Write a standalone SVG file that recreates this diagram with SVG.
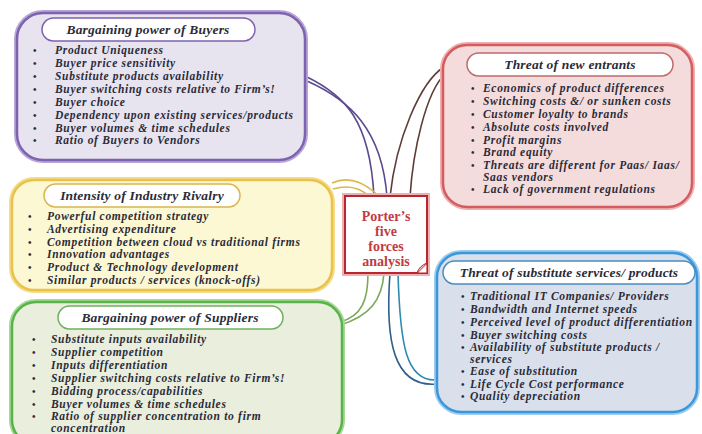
<svg xmlns="http://www.w3.org/2000/svg" width="702" height="434" viewBox="0 0 702 434">
<defs>
<style>
.t{font-family:"Liberation Serif","Times New Roman",serif;font-weight:bold;font-style:italic;font-size:11.5px;letter-spacing:0.7px;fill:#2b2b38}
.h{font-family:"Liberation Serif","Times New Roman",serif;font-weight:bold;font-style:italic;font-size:13.5px;letter-spacing:0.2px;fill:#2b2b38;text-anchor:middle}
.b{font-family:"Liberation Serif",serif;font-weight:bold;font-size:10px;fill:#2b2b38}
.c{font-family:"Liberation Serif","Times New Roman",serif;font-weight:bold;font-size:14px;fill:#c23a44;text-anchor:middle}
.pill{fill:#fff;stroke-width:1.5}
.con{fill:none;stroke-width:1.6}
</style>
</defs>
<rect width="702" height="434" fill="#fff"/>

<g id="connectors">
<path class="con" stroke="#5c4a8e" d="M305,76 C345,95 370,120 374,197"/>
<path class="con" stroke="#5c4a8e" d="M307,81 C350,100 382,130 387,197"/>
<path class="con" stroke="#d9b94a" d="M332,183 C352,174 368,186 380,197"/>
<path class="con" stroke="#d9b94a" d="M333,189 C350,184 362,189 370,197"/>
<path class="con" stroke="#5e3b36" d="M444,67 C420,82 396,140 390,197"/>
<path class="con" stroke="#5e3b36" d="M445,74 C426,92 413,150 410,197"/>
<path class="con" stroke="#7aa85a" d="M340,322 C362,316 368,300 368,273"/>
<path class="con" stroke="#7aa85a" d="M340,325 C370,316 382,300 384,273"/>
<path class="con" stroke="#2f5f8a" d="M390,273 C385,340 393,388 437,384"/>
<path class="con" stroke="#2f8ab0" d="M398,273 C400,345 406,382 437,380"/>
</g>

<g id="buyers">
<rect x="17" y="13" width="288" height="147" rx="26" fill="none" stroke="#b7a6d8" stroke-width="6"/>
<rect x="17" y="13" width="288" height="147" rx="26" fill="#e7e3ef" stroke="#7e62ae" stroke-width="2.5"/>
<rect class="pill" x="42" y="18" width="213" height="23" rx="11.5" stroke="#7e62ae"/>
<text class="h" x="148" y="34">Bargaining power of Buyers</text>
<g class="b"><text x="33" y="54">•</text><text x="33" y="67">•</text><text x="33" y="80">•</text><text x="33" y="93">•</text><text x="33" y="106">•</text><text x="33" y="119">•</text><text x="33" y="132">•</text><text x="33" y="144">•</text></g>
<text class="t" x="55" y="54">Product Uniqueness</text>
<text class="t" x="55" y="67">Buyer price sensitivity</text>
<text class="t" x="55" y="80">Substitute products availability</text>
<text class="t" x="55" y="93">Buyer switching costs relative to Firm’s!</text>
<text class="t" x="55" y="106">Buyer choice</text>
<text class="t" x="55" y="119">Dependency upon existing services/products</text>
<text class="t" x="55" y="132">Buyer volumes &amp; time schedules</text>
<text class="t" x="55" y="144">Ratio of Buyers to Vendors</text>
</g>

<g id="rivalry">
<rect x="12" y="180" width="320" height="110" rx="22" fill="none" stroke="#f4dc8a" stroke-width="6"/>
<rect x="12" y="180" width="320" height="110" rx="22" fill="#fcf8d4" stroke="#e9c24c" stroke-width="2.5"/>
<rect class="pill" x="44" y="184" width="196" height="23" rx="11.5" stroke="#d8b550"/>
<text class="h" x="142" y="200">Intensity of Industry Rivalry</text>
<g class="b"><text x="28" y="220">•</text><text x="28" y="233">•</text><text x="28" y="246">•</text><text x="28" y="258">•</text><text x="28" y="271">•</text><text x="28" y="284">•</text></g>
<text class="t" x="47" y="220">Powerful competition strategy</text>
<text class="t" x="47" y="233">Advertising expenditure</text>
<text class="t" x="47" y="246">Competition between cloud vs traditional firms</text>
<text class="t" x="47" y="258">Innovation advantages</text>
<text class="t" x="47" y="271">Product &amp; Technology development</text>
<text class="t" x="47" y="284">Similar products / services (knock-offs)</text>
</g>

<g id="suppliers">
<rect x="12" y="302" width="330" height="142" rx="24" fill="none" stroke="#a8d898" stroke-width="6"/>
<rect x="12" y="302" width="330" height="142" rx="24" fill="#e9eedd" stroke="#58b448" stroke-width="2.5"/>
<rect class="pill" x="58" y="306" width="225" height="23" rx="11.5" stroke="#70b060"/>
<text class="h" x="170" y="322">Bargaining power of Suppliers</text>
<g class="b"><text x="32" y="343">•</text><text x="32" y="356">•</text><text x="32" y="369">•</text><text x="32" y="382">•</text><text x="32" y="395">•</text><text x="32" y="408">•</text><text x="32" y="420">•</text></g>
<text class="t" x="51" y="343">Substitute inputs availability</text>
<text class="t" x="51" y="356">Supplier competition</text>
<text class="t" x="51" y="369">Inputs differentiation</text>
<text class="t" x="51" y="382">Supplier switching costs relative to Firm’s!</text>
<text class="t" x="51" y="395">Bidding process/capabilities</text>
<text class="t" x="51" y="408">Buyer volumes &amp;  time schedules</text>
<text class="t" x="51" y="420">Ratio of supplier concentration to firm</text>
<text class="t" x="51" y="432">concentration</text>
</g>

<g id="center">
<rect x="345" y="196" width="82" height="77" fill="none" stroke="#efb0b4" stroke-width="6"/>
<rect x="345" y="196" width="82" height="77" fill="#fff" stroke="#b8262e" stroke-width="2"/>
<path d="M417,273 L427,263 L427,273 Z" fill="#fff" stroke="#b8262e" stroke-width="1.2"/>
<path d="M417,273 Q419,266 427,263" fill="#f3c6c8" stroke="#b8262e" stroke-width="1"/>
<text class="c" x="386" y="221">Porter’s</text>
<text class="c" x="386" y="236">five</text>
<text class="c" x="386" y="251">forces</text>
<text class="c" x="386" y="266">analysis</text>
</g>

<g id="entrants">
<rect x="443" y="45" width="249" height="162" rx="24" fill="none" stroke="#eeb0b0" stroke-width="6"/>
<rect x="443" y="45" width="249" height="162" rx="24" fill="#f4dcdc" stroke="#d45c5e" stroke-width="2.5"/>
<rect class="pill" x="467" y="53" width="206" height="23" rx="11.5" stroke="#c06a6a"/>
<text class="h" x="570" y="69">Threat of new entrants</text>
<g class="b"><text x="471" y="92">•</text><text x="471" y="105">•</text><text x="471" y="118">•</text><text x="471" y="131">•</text><text x="471" y="144">•</text><text x="471" y="156">•</text><text x="471" y="169">•</text><text x="471" y="193">•</text></g>
<text class="t" x="483" y="92">Economics of product differences</text>
<text class="t" x="483" y="105">Switching costs &amp;/ or sunken costs</text>
<text class="t" x="483" y="118">Customer loyalty to brands</text>
<text class="t" x="483" y="131">Absolute costs involved</text>
<text class="t" x="483" y="144">Profit margins</text>
<text class="t" x="483" y="156">Brand equity</text>
<text class="t" x="483" y="169">Threats are different for Paas/ Iaas/</text>
<text class="t" x="483" y="181">Saas vendors</text>
<text class="t" x="483" y="193">Lack of government regulations</text>
</g>

<g id="substitutes">
<rect x="437" y="253" width="260" height="159" rx="24" fill="none" stroke="#9ccdf0" stroke-width="6"/>
<rect x="437" y="253" width="260" height="159" rx="24" fill="#d9e0ec" stroke="#3b96da" stroke-width="2.5"/>
<rect class="pill" x="443" y="261" width="252" height="23" rx="11.5" stroke="#4a8cc0"/>
<text class="h" x="569" y="277">Threat of substitute services/ products</text>
<g class="b"><text x="461" y="300">•</text><text x="461" y="313">•</text><text x="461" y="326">•</text><text x="461" y="339">•</text><text x="461" y="351">•</text><text x="461" y="375">•</text><text x="461" y="388">•</text><text x="461" y="400">•</text></g>
<text class="t" x="470" y="300">Traditional IT Companies/ Providers</text>
<text class="t" x="470" y="313">Bandwidth and Internet speeds</text>
<text class="t" x="470" y="326">Perceived level of product differentiation</text>
<text class="t" x="470" y="339">Buyer switching costs</text>
<text class="t" x="470" y="351">Availability of substitute products /</text>
<text class="t" x="470" y="363">services</text>
<text class="t" x="470" y="375">Ease of substitution</text>
<text class="t" x="470" y="388">Life Cycle Cost performance</text>
<text class="t" x="470" y="400">Quality depreciation</text>
</g>
</svg>
